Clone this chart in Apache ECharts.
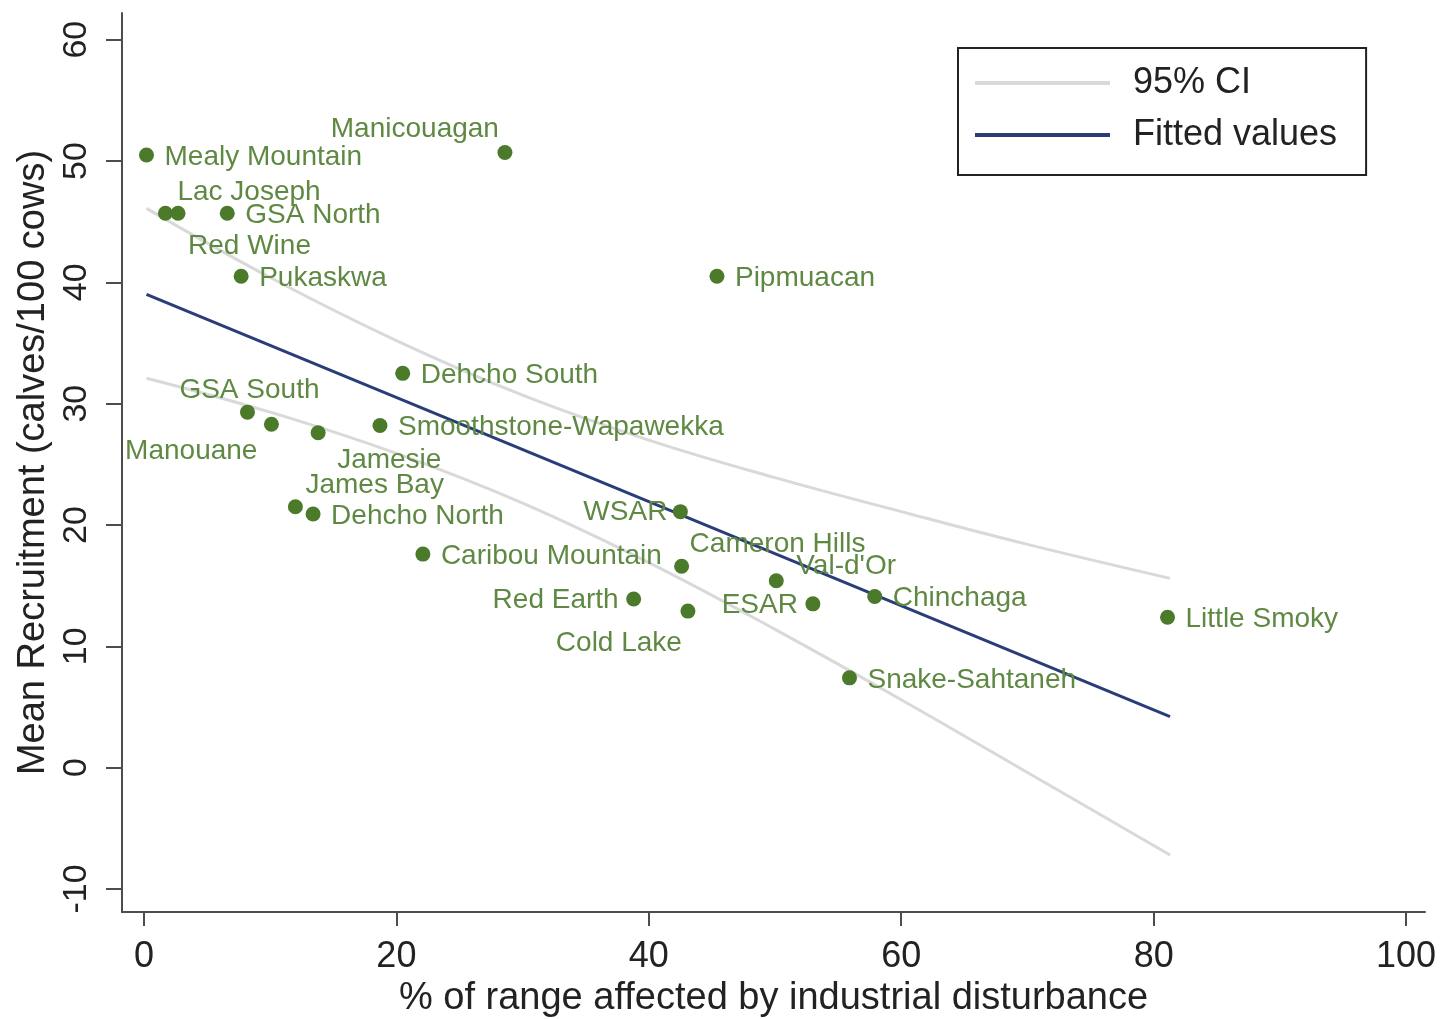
<!DOCTYPE html>
<html>
<head>
<meta charset="utf-8">
<script src="https://cdn.jsdelivr.net/npm/echarts@6/dist/echarts.min.js"></script>
<style>
  html, body { margin: 0; padding: 0; background: #ffffff; }
  #chart { width: 1442px; height: 1019px; }
</style>
</head>
<body>
<div id="chart"></div>
<script>
// ---- Data ----
const herdNames = ['Mealy Mountain', 'Lac Joseph', 'Red Wine', 'GSA North', 'Pukaskwa', 'Manicouagan',
  'Pipmuacan', 'Dehcho South', 'GSA South', 'Manouane', 'Jamesie', 'Smoothstone-Wapawekka',
  'James Bay', 'Dehcho North', 'Caribou Mountain', 'WSAR', 'Cameron Hills', 'Red Earth',
  'Cold Lake', "Val-d'Or", 'ESAR', 'Chinchaga', 'Snake-Sahtaneh', 'Little Smoky'];
const disturbance = [0.2, 1.7, 2.7, 6.6, 7.7, 28.6,
  45.4, 20.5, 8.2, 10.1, 13.8, 18.7,
  12.0, 13.4, 22.1, 42.5, 42.6, 38.8,
  43.1, 50.1, 53.0, 57.9, 55.9, 81.1];
const recruitment = [50.5, 45.7, 45.7, 45.7, 40.5, 50.7,
  40.5, 32.5, 29.3, 28.3, 27.6, 28.2,
  21.5, 20.9, 17.6, 21.1, 16.6, 13.9,
  12.9, 15.4, 13.5, 14.1, 7.4, 12.4];

const fitX = [0.2, 81.3];
const fitY = [39.0, 4.2];

const ciX = [0.2, 10, 20, 30, 40, 50, 60, 70, 81.3];
const ciUpper = [46.1, 40.4, 35.2, 30.7, 27.0, 23.9, 21.1, 18.4, 15.6];
const ciLower = [32.1, 29.3, 25.9, 21.8, 16.9, 11.4, 5.6, -0.4, -7.2];

const xTicks = [0, 20, 40, 60, 80, 100];
const yTicks = [-10, 0, 10, 20, 30, 40, 50, 60];

// ---- Label placement (style only): [align, dx, dy] relative to marker centre ----
const defaultPlacement = ['left', 18, 2];
const labelPlacement = {
  'Lac Joseph': ['left', 12, -21],
  'Red Wine': ['left', 10, 33],
  'Manicouagan': ['right', -6, -23],
  'GSA South': ['center', 2, -22],
  'Manouane': ['right', -14, 27],
  'Jamesie': ['left', 19, 28],
  'James Bay': ['left', 10, -22],
  'Cameron Hills': ['left', 8, -22],
  'Cold Lake': ['right', -6, 32],
  "Val-d'Or": ['left', 20, -15],
  'WSAR': ['right', -13, 1],
  'Red Earth': ['right', -15, 1],
  'ESAR': ['right', -15, 1]
};

const FONT = 'Arial, "Liberation Sans", Helvetica, sans-serif';
const pair = (xs, ys) => xs.map((x, i) => [x, ys[i]]);

const scatterData = herdNames.map((n, i) => {
  const p = labelPlacement[n] || defaultPlacement;
  return {
    name: n,
    value: [disturbance[i], recruitment[i]],
    label: { align: p[0], offset: [p[1], p[2]] }
  };
});

const chart = echarts.init(document.getElementById('chart'), null, { renderer: 'canvas' });
chart.setOption({
  animation: false,
  backgroundColor: '#ffffff',
  grid: { left: 122, right: 17, top: 13, bottom: 107, containLabel: false, outerBoundsMode: 'none' },
  legend: {
    orient: 'vertical',
    left: 958, top: 48,
    itemWidth: 135, itemHeight: 4, itemGap: 16,
    padding: [17, 29, 22, 17],
    borderColor: '#222', borderWidth: 2, borderRadius: 0,
    backgroundColor: '#ffffff',
    textStyle: { fontSize: 36, color: '#222', fontFamily: FONT, padding: [0, 0, 0, 18] },
    data: [{ name: '95% CI', icon: 'rect' }, { name: 'Fitted values', icon: 'rect' }]
  },
  xAxis: {
    type: 'value', min: -1.74, max: 101.5,
    name: '% of range affected by industrial disturbance',
    nameLocation: 'middle', nameGap: 63,
    nameTextStyle: { fontSize: 38, color: '#222', fontFamily: FONT },
    axisLine: { show: true, onZero: false, lineStyle: { color: '#4d4d4d', width: 2 } },
    axisTick: { show: true, customValues: xTicks, length: 14, lineStyle: { color: '#4d4d4d', width: 2 } },
    axisLabel: { customValues: xTicks, fontSize: 36, color: '#222', margin: 27, fontFamily: FONT },
    splitLine: { show: false }
  },
  yAxis: {
    type: 'value', min: -11.9, max: 62.2,
    name: 'Mean Recruitment (calves/100 cows)',
    nameLocation: 'middle', nameGap: 56, nameRotate: 90,
    nameTextStyle: { fontSize: 38, color: '#222', fontFamily: FONT },
    axisLine: { show: true, onZero: false, lineStyle: { color: '#4d4d4d', width: 2 } },
    axisTick: { show: true, customValues: yTicks, length: 16, lineStyle: { color: '#4d4d4d', width: 2 } },
    axisLabel: { customValues: yTicks, rotate: 90, fontSize: 34, color: '#222', margin: 28, fontFamily: FONT },
    splitLine: { show: false }
  },
  series: [
    {
      name: '95% CI', type: 'line', data: pair(ciX, ciUpper),
      symbol: 'none', smooth: 0.4, z: 2,
      itemStyle: { color: '#d9d9d9' },
      lineStyle: { color: '#d9d9d9', width: 3 }
    },
    {
      name: '95% CI', type: 'line', data: pair(ciX, ciLower),
      symbol: 'none', smooth: 0.4, z: 2,
      itemStyle: { color: '#d9d9d9' },
      lineStyle: { color: '#d9d9d9', width: 3 }
    },
    {
      name: 'Fitted values', type: 'line', data: pair(fitX, fitY),
      symbol: 'none', z: 3,
      itemStyle: { color: '#2a3d78' },
      lineStyle: { color: '#2a3d78', width: 3 }
    },
    {
      name: 'Herds', type: 'scatter', data: scatterData,
      symbol: 'circle', symbolSize: 15, z: 4,
      itemStyle: { color: '#4a7a2a', opacity: 1 },
      label: {
        show: true, position: 'inside', formatter: '{b}',
        verticalAlign: 'middle',
        fontSize: 28, color: '#5f8943', fontFamily: FONT
      },
      emphasis: { disabled: true }
    }
  ]
});
</script>
</body>
</html>
